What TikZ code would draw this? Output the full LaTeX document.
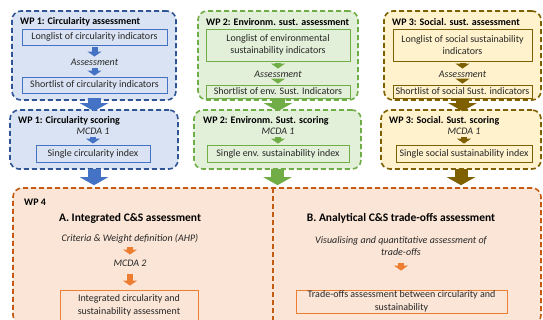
\documentclass[tikz,border=0pt]{standalone}
\usepackage{fontspec}
\setmainfont{Carlito}
\usepackage{tikz}
\usetikzlibrary{arrows.meta,positioning}

\definecolor{bluefill}{HTML}{DAE3F3}
\definecolor{blueline}{HTML}{2F5597}
\definecolor{bluearrow}{HTML}{4472C4}
\definecolor{greenfill}{HTML}{E2F0D9}
\definecolor{greenline}{HTML}{70AD47}
\definecolor{goldfill}{HTML}{FFF2CC}
\definecolor{goldline}{HTML}{7F6000}
\definecolor{orangefill}{HTML}{FBE5D6}
\definecolor{orangeline}{HTML}{C55A11}
\definecolor{orangearrow}{HTML}{ED7D31}

\begin{document}
\begin{tikzpicture}[x=1pt, y=-1pt,
    wp/.style={rounded corners=9pt, line width=1.6pt, dash pattern=on 5pt off 3pt, inner sep=0pt},
    item/.style={draw, line width=0.8pt, inner sep=1pt, align=center, text=black!85, font=\fontsize{10}{12.5}\selectfont},
    wptitle/.style={anchor=west, inner sep=0pt, font=\bfseries\fontsize{10}{12}\selectfont},
    note/.style={inner sep=1pt, align=center, text=black!85, font=\itshape\fontsize{10}{12}\selectfont},
    bigarrow/.style={line width=13pt, -{Triangle[width=28pt,length=8pt]}},
    smallarrow/.style={line width=6pt, -{Triangle[width=14pt,length=5pt]}, shorten <=2pt, shorten >=1pt}
]
    % Page size of the reference
    \fill[white] (0,0) rectangle (543,320);
    \useasboundingbox (0,0) rectangle (543,320);

    % --- First row: assessment of the indicators ---
    \node[wp, draw=blueline, fill=bluefill, minimum width=164pt, minimum height=89pt] (wp1_box) at (94,55.5) {};
    \node[wp, draw=greenline, fill=greenfill, minimum width=160pt, minimum height=89pt] (wp2_box) at (278,55.5) {};
    \node[wp, draw=goldline, fill=goldfill, minimum width=157pt, minimum height=89pt] (wp3_box) at (462.5,55.5) {};

    \node[wptitle] (wp1_title) at (20,22) {WP 1: Circularity assessment};
    \node[wptitle] (wp2_title) at (206,22) {WP 2: Environm. sust. assessment};
    \node[wptitle] (wp3_title) at (392,22) {WP 3: Social. sust. assessment};

    % WP 1
    \node[item, draw=bluearrow, fill=bluefill, minimum width=145pt, minimum height=16pt] (wp1_long) at (94.5,37) {Longlist of circularity indicators};
    \node[note] (wp1_assess) at (94.5,62) {Assessment};
    \node[item, draw=bluearrow, fill=bluefill, minimum width=145pt, minimum height=16pt] (wp1_short) at (94.5,85) {Shortlist of circularity indicators};
    \draw[smallarrow, bluearrow] (wp1_long) -- (wp1_assess);
    \draw[smallarrow, bluearrow] (wp1_assess) -- (wp1_short);

    % WP 2
    \node[item, draw=greenline, fill=greenfill, minimum width=144pt, minimum height=32pt] (wp2_long) at (278,45) {Longlist of environmental\\sustainability indicators};
    \node[note] (wp2_assess) at (278,74) {Assessment};
    \node[item, draw=greenline, fill=greenfill, minimum width=144pt, minimum height=13pt] (wp2_short) at (278,91.5) {Shortlist of env. Sust. Indicators};
    \draw[smallarrow, greenline] (wp2_long) -- (wp2_assess);
    \draw[smallarrow, greenline] (wp2_assess) -- (wp2_short);

    % WP 3
    \node[item, draw=goldline, fill=goldfill, minimum width=139pt, minimum height=32pt] (wp3_long) at (462.5,45) {Longlist of social sustainability\\indicators};
    \node[note] (wp3_assess) at (462.5,74) {Assessment};
    \node[item, draw=goldline, fill=goldfill, minimum width=139pt, minimum height=13pt] (wp3_short) at (462.5,91.5) {Shortlist of social Sust. indicators};
    \draw[smallarrow, goldline] (wp3_long) -- (wp3_assess);
    \draw[smallarrow, goldline] (wp3_assess) -- (wp3_short);

    % --- Second row: scoring ---
    \node[wp, draw=blueline, fill=bluefill, minimum width=168pt, minimum height=59pt] (wp1s_box) at (94,139.5) {};
    \node[wp, draw=greenline, fill=greenfill, minimum width=167pt, minimum height=59pt] (wp2s_box) at (277.5,139.5) {};
    \node[wp, draw=goldline, fill=goldfill, minimum width=160pt, minimum height=59pt] (wp3s_box) at (461,139.5) {};

    \node[wptitle] (wp1s_title) at (18,121) {WP 1: Circularity scoring};
    \node[wptitle] (wp2s_title) at (203,121) {WP 2: Environm. Sust. scoring};
    \node[wptitle] (wp3s_title) at (389,121) {WP 3: Social. Sust. scoring};

    \node[note] (wp1s_mcda) at (93,131) {MCDA 1};
    \node[note] (wp2s_mcda) at (278,131) {MCDA 1};
    \node[note] (wp3s_mcda) at (464,131) {MCDA 1};

    \node[item, draw=bluearrow, fill=bluefill, minimum width=114pt, minimum height=17pt] (wp1s_index) at (93,153.5) {Single circularity index};
    \node[item, draw=greenline, fill=greenfill, minimum width=142pt, minimum height=17pt] (wp2s_index) at (278,153.5) {Single env. sustainability index};
    \node[item, draw=goldline, fill=goldfill, minimum width=136pt, minimum height=17pt] (wp3s_index) at (464,153.5) {Single social sustainability index};

    \draw[smallarrow, bluearrow] (wp1s_mcda) -- (wp1s_index);
    \draw[smallarrow, greenline] (wp2s_mcda) -- (wp2s_index);
    \draw[smallarrow, goldline] (wp3s_mcda) -- (wp3s_index);

    % Arrows from the first row to the second
    \draw[bigarrow, bluearrow, shorten <=-3pt, shorten >=-2pt] (wp1_box.south) -- (wp1_box.south |- wp1s_box.north);
    \draw[bigarrow, greenline, shorten <=-3pt, shorten >=-2pt] (wp2_box.south) -- (wp2_box.south |- wp2s_box.north);
    \draw[bigarrow, goldline, shorten <=-3pt, shorten >=-2pt] (wp3_box.south) -- (wp3_box.south |- wp3s_box.north);

    % --- WP 4 ---
    \node[wp, draw=orangeline, fill=orangefill, minimum width=528pt, minimum height=136pt] (wp4_box) at (277,256) {};
    \coordinate (wp4_div_top) at (273,188);
    \coordinate (wp4_div_bot) at (273,324);
    \draw[wp, orangeline] (wp4_div_top) -- (wp4_div_bot);

    % Arrows from the scores into WP 4
    \draw[bigarrow, bluearrow, shorten <=-1pt, shorten >=2pt] (wp1s_box.south) -- (wp1s_box.south |- wp4_box.north);
    \draw[bigarrow, greenline, shorten <=-1pt, shorten >=2pt] (wp2s_box.south) -- (wp2s_box.south |- wp4_box.north);
    \draw[bigarrow, goldline, shorten <=-1pt, shorten >=2pt] (wp3s_box.south) -- (wp3s_box.south |- wp4_box.north);

    \node[wptitle] (wp4_title) at (24,202) {WP 4};

    % A. integrated assessment
    \node[inner sep=0pt, font=\bfseries\fontsize{11.5}{13}\selectfont] (wp4a_title) at (130,218) {A. Integrated C\&S assessment};
    \node[note] (wp4a_crit) at (130,239) {Criteria \& Weight definition (AHP)};
    \node[note] (wp4a_mcda) at (130,263) {MCDA 2};
    \node[item, draw=orangearrow, fill=orangefill, minimum width=138pt, minimum height=31pt] (wp4a_result) at (129,305.5) {Integrated circularity and\\sustainability assessment};
    \draw[smallarrow, orangearrow, shorten <=2pt, shorten >=4pt] (wp4a_crit) -- (wp4a_mcda);
    \draw[smallarrow, orangearrow, shorten <=7pt, shorten >=4pt] (wp4a_mcda) -- (wp4a_mcda |- wp4a_result.north);

    % B. trade-offs
    \node[inner sep=0pt, font=\bfseries\fontsize{11.5}{13}\selectfont] (wp4b_title) at (401,218) {B. Analytical C\&S trade-offs assessment};
    \node[note] (wp4b_vis) at (401,246) {Visualising and quantitative assessment of\\trade-offs};
    \node[item, draw=orangearrow, fill=orangefill, minimum width=211pt, minimum height=23pt] (wp4b_result) at (401.5,301.5) {Trade-offs assessment between circularity and\\sustainability};
    \draw[smallarrow, orangearrow, shorten <=6pt, shorten >=19pt] (wp4b_vis) -- (wp4b_vis |- wp4b_result.north);

\end{tikzpicture}
\end{document}
